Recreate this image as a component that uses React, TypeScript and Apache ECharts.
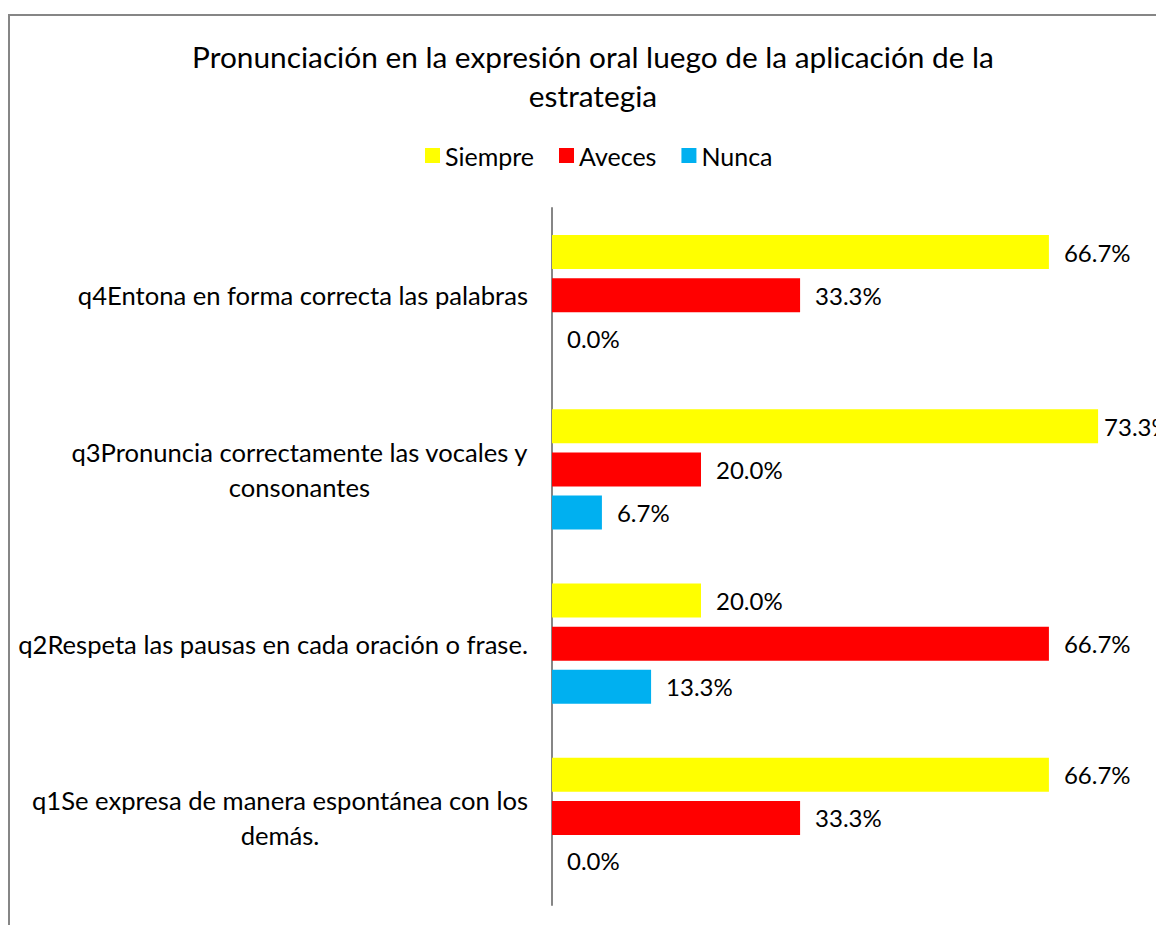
import React, { useEffect, useRef } from "react";
import * as echarts from "echarts";

const titleText = "Pronunciación en la expresión oral luego de la aplicación de la\nestrategia";
const categories = [
  "q1Se expresa de manera espontánea con los\ndemás.",
  "q2Respeta las pausas en cada oración o frase.",
  "q3Pronuncia correctamente las vocales y\nconsonantes",
  "q4Entona en forma correcta las palabras",
];
const seriesNames = ["Siempre", "Aveces", "Nunca"];
const siempre = [66.7, 20.0, 73.3, 66.7];
const aveces = [33.3, 66.7, 20.0, 33.3];
const nunca = [0.0, 13.3, 6.7, 0.0];
const colors = { Siempre: "#FFFF00", Aveces: "#FF0000", Nunca: "#00B0F0" };

const FONT = "Lato";

export default function App() {
  const ref = useRef<HTMLDivElement>(null);
  useEffect(() => {
    if (!ref.current) return;
    const chart = echarts.init(ref.current, undefined, { renderer: "svg" });
    const label = {
      show: true,
      position: "right",
      distance: 15,
      color: "#000",
      fontFamily: FONT,
      fontSize: 24,
      formatter: (p: any) => Number(p.value).toFixed(1) + "%",
    };
    const mk = (name: string, data: number[]) => ({
      name,
      type: "bar",
      // labels near the plot's right edge are pulled in, as in the source chart
      data: data.map((v) => (v > 70 ? { value: v, label: { distance: 6 } } : v)),
      barWidth: 34,
      barGap: "26.5%",
      itemStyle: { color: (colors as any)[name] },
      label,
    });
    chart.setOption({
      animation: false,
      backgroundColor: "#fff",
      title: {
        text: titleText,
        left: 585,
        textAlign: "center",
        top: 29,
        padding: 0,
        textStyle: {
          fontFamily: FONT,
          fontSize: 29.8,
          fontWeight: "normal",
          color: "#000",
          lineHeight: 39,
        },
      },
      legend: {
        data: seriesNames,
        left: 417,
        top: 135,
        padding: 0,
        itemWidth: 15,
        itemHeight: 15,
        itemGap: 25,
        itemStyle: { borderWidth: 0 },
        icon: "rect",
        textStyle: { fontFamily: FONT, fontSize: 25, color: "#000" },
      },
      grid: { left: 544, top: 200, width: 596, height: 697, containLabel: false },
      xAxis: {
        type: "value",
        min: 0,
        max: 80,
        show: false,
      },
      yAxis: {
        type: "category",
        data: categories,
        axisLine: { show: true, lineStyle: { color: "#868686", width: 2 } },
        axisTick: { show: false },
        splitLine: { show: false },
        axisLabel: {
          align: "right",
          margin: 24,
          formatter: (v: string) =>
            v
              .split("\n")
              .map((l) => "{c|" + l + "}")
              .join("\n"),
          rich: {
            c: {
              align: "center",
              color: "#000",
              fontFamily: FONT,
              fontSize: 25.6,
              lineHeight: 35,
            },
          },
        },
      },
      graphic: [
        {
          type: "rect",
          shape: { x: 1, y: 7, width: 1300, height: 1100 },
          style: { fill: "none", stroke: "#868686", lineWidth: 2 },
          silent: true,
          z: -1,
        },
      ],
      series: [mk("Siempre", siempre), mk("Aveces", aveces), mk("Nunca", nunca)],
    });
    return () => chart.dispose();
  }, []);
  return <div ref={ref} style={{ width: 1156, height: 917 }} />;
}
